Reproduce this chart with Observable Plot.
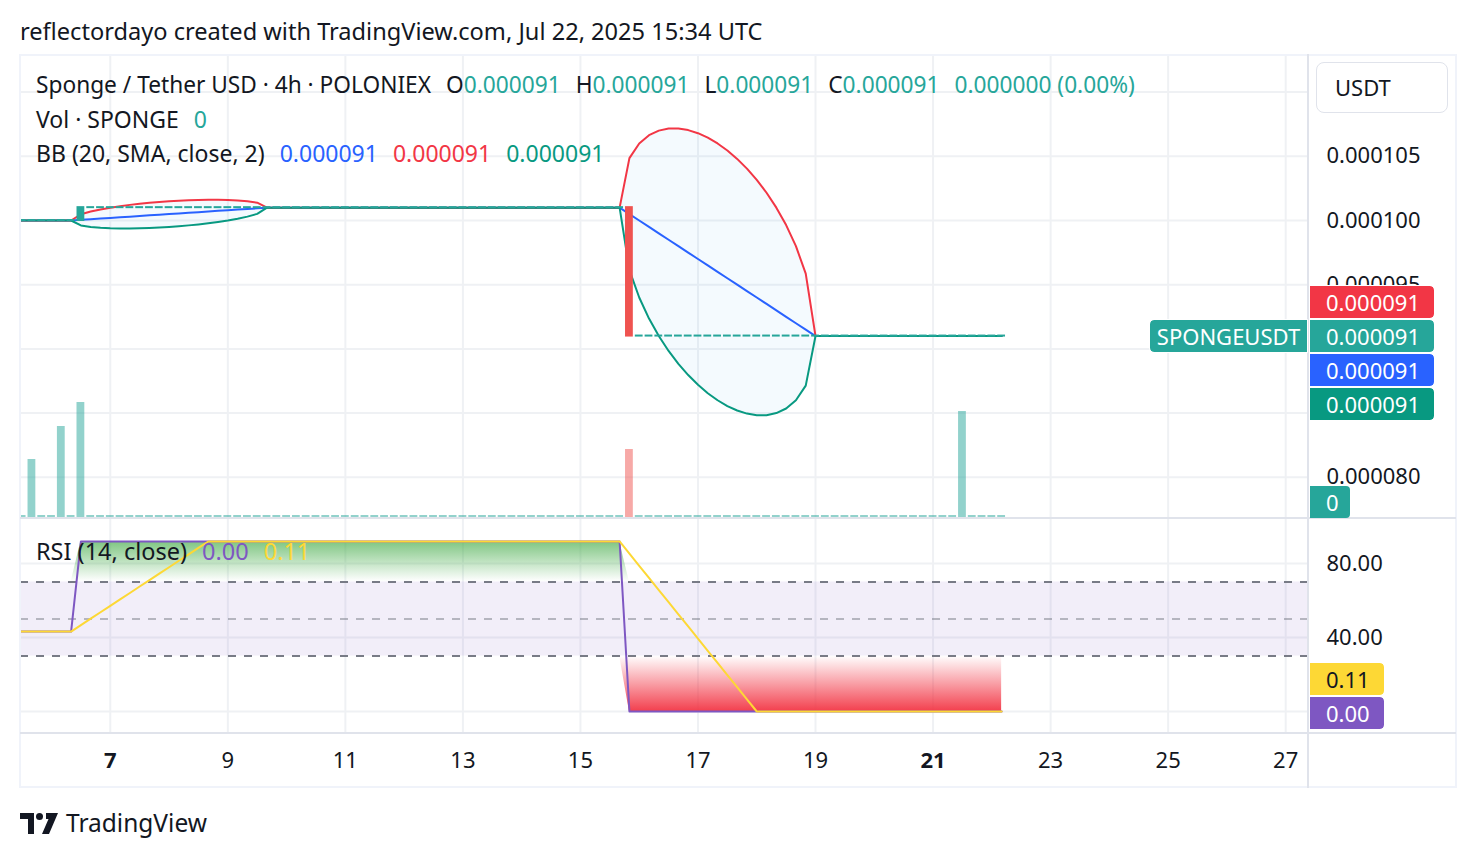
<!DOCTYPE html>
<html><head><meta charset="utf-8">
<script src="https://cdn.jsdelivr.net/npm/d3@7"></script>
<script src="https://cdn.jsdelivr.net/npm/@observablehq/plot@0.6"></script>
<style>
html,body{margin:0;padding:0;background:#fff;}
#root{position:relative;width:1476px;height:858px;overflow:hidden;font-family:"Noto Sans",Roboto,sans-serif;color:#131722;}
#root svg{position:absolute;}
.t{position:absolute;white-space:nowrap;font-size:23px;line-height:30px;height:30px;}
.t .s{margin-left:15px;}
.ln{position:absolute;}
.badge{position:absolute;font-size:22px;height:32px;line-height:32px;white-space:nowrap;box-sizing:border-box;padding-left:16px;color:#fff;outline:1px solid #fff;}
</style></head>
<body><div id="root"></div>
<script>
// ---------------- data ----------------
const symbolName = "Sponge / Tether USD · 4h · POLONIEX";
const firstBar = "2025-07-02T08:00:00Z";            // series is flat before the visible window
const lastBar  = "2025-07-22T04:00:00Z";
// close price of each 4h bar, given as runs: bar where level starts -> close (USDT)
const closeRunStarts = ["2025-07-02T08:00:00Z", "2025-07-06T12:00:00Z", "2025-07-15T20:00:00Z"];
const closeRunValues = [0.000100, 0.000101, 0.000091];
// bars with traded volume (SPONGE); every other bar has volume 0
const volumeTimes  = ["2025-07-05T16:00:00Z", "2025-07-06T04:00:00Z", "2025-07-06T12:00:00Z", "2025-07-15T20:00:00Z", "2025-07-21T12:00:00Z"];
const volumeValues = [58000, 91000, 115000, 68000, 106000];
// RSI(14) level, as runs
const rsiRunStarts = ["2025-07-02T08:00:00Z", "2025-07-06T12:00:00Z", "2025-07-15T20:00:00Z"];
const rsiRunValues = [43.2, 91.9, 0];
const rsiLegend = ["0.00", "0.11"];
// axes
const dateTicks  = ["2025-07-07","2025-07-09","2025-07-11","2025-07-13","2025-07-15","2025-07-17","2025-07-19","2025-07-21","2025-07-23","2025-07-25","2025-07-27"];
const boldDateTicks = ["2025-07-07","2025-07-21"];
const priceTickLabels = [0.000080, 0.000095, 0.000100, 0.000105];
const priceGrid  = [0.000080, 0.000085, 0.000090, 0.000095, 0.000100, 0.000105, 0.000110];
const rsiTicks = [40, 80];
const rsiGrid  = [0, 40, 80];
const rsiBand  = [{lo: 30, hi: 70}];
const rsiDashed = [30, 70];
const rsiMid = [50];

// ---------------- build series ----------------
const HOUR = 3600e3;
const times = d3.utcHour.every(4).range(new Date(firstBar), new Date(+new Date(lastBar) + 1));
function runValue(starts, values, t) { let v = values[0]; starts.forEach((s, i) => { if (t >= new Date(s)) v = values[i]; }); return v; }
const volMap = new Map(volumeTimes.map((t, i) => [+new Date(t), volumeValues[i]]));
const bars = times.map(t => ({date: t, close: runValue(closeRunStarts, closeRunValues, t), volume: volMap.get(+t) || 0, rsi: runValue(rsiRunStarts, rsiRunValues, t)}));
bars.forEach((b, i) => { b.open = i ? bars[i - 1].close : b.close; });
// Bollinger Bands (20, SMA, close, 2) and the RSI's 14-bar moving average
bars.forEach((b, i) => {
  const w = bars.slice(Math.max(0, i - 19), i + 1).map(d => d.close);
  const m = d3.mean(w), sd = Math.sqrt(d3.mean(w, v => (v - m) ** 2));
  b.basis = m; b.upper = m + 2 * sd; b.lower = m - 2 * sd;
  b.ma = d3.mean(bars.slice(Math.max(0, i - 13), i + 1), d => d.rsi);
});
const last = bars[bars.length - 1];

// ---------------- layout ----------------
const root = document.getElementById("root");
const W = 1476, ML = 20, MR = 168;
const xDomain = [new Date("2025-07-05T11:20:00Z"), new Date("2025-07-27T09:19:00Z")];
const priceDomain = [0.0000767913, 0.00011285];
const gridColor = "#EFF1F4";
const font = '"Noto Sans", Roboto, sans-serif';
const baseStyle = {background: "none", color: "#131722", fontFamily: font, fontSize: "22px", overflow: "visible"};
const x1 = d => new Date(+d.date - 2 * HOUR), x2 = d => new Date(+d.date + 2 * HOUR);
const up = "#26A69A", down = "#EF5350";

function put(el, left, top) { el.style.position = "absolute"; el.style.left = left + "px"; el.style.top = top + "px"; root.appendChild(el); return el; }
function line(left, top, w, h, c) { const d = document.createElement("div"); d.className = "ln"; Object.assign(d.style, {left: left + "px", top: top + "px", width: w + "px", height: h + "px", background: c}); root.appendChild(d); }

// layer A: price grid
const gridPlot = Plot.plot({width: W, height: 463, marginLeft: ML, marginRight: MR, marginTop: 0, marginBottom: 0, style: baseStyle,
  x: {type: "utc", domain: xDomain, axis: null}, y: {domain: priceDomain, axis: null},
  marks: [
    Plot.ruleX(dateTicks.map(d => new Date(d)), {stroke: gridColor, strokeWidth: 2}),
    Plot.ruleY(priceGrid, {stroke: gridColor, strokeWidth: 2})
  ]});
put(gridPlot, 0, 55);

// layer B: volume
const volPlot = Plot.plot({width: W, height: 463, marginLeft: ML, marginRight: MR, marginTop: 0, marginBottom: 1, style: baseStyle,
  x: {type: "utc", domain: xDomain, axis: null}, y: {domain: [0, 462000], axis: null},
  marks: [
    Plot.rect(bars.filter(d => d.volume > 0), {x1, x2, y1: () => 0, y2: "volume", fill: d => d.close >= d.open ? up : down, fillOpacity: 0.5, insetLeft: 1, insetRight: 1, clip: true}),
    Plot.rect(bars.filter(d => d.volume === 0), {x1, x2, y1: () => 0, y2: () => 0, fill: up, fillOpacity: 0.5, insetLeft: 1, insetRight: 1, insetTop: -2, clip: true})
  ]});
put(volPlot, 0, 55);

// layer C: price, Bollinger Bands, price axis
const main = Plot.plot({width: W, height: 463, marginLeft: ML, marginRight: MR, marginTop: 0, marginBottom: 0, style: baseStyle,
  x: {type: "utc", domain: xDomain, axis: null}, y: {domain: priceDomain, axis: null},
  marks: [
    Plot.areaY(bars, {x: "date", y1: "lower", y2: "upper", fill: "#2196F3", fillOpacity: 0.05, clip: true}),
    Plot.lineY(bars, {x: "date", y: "basis", stroke: "#2962FF", strokeWidth: 2, clip: true}),
    Plot.lineY(bars, {x: "date", y: "upper", stroke: "#F23645", strokeWidth: 2, clip: true}),
    Plot.lineY(bars, {x: "date", y: "lower", stroke: "#089981", strokeWidth: 2, clip: true}),
    Plot.rect(bars, {x1, x2, y1: "open", y2: "close", fill: d => d.close >= d.open ? up : down, insetLeft: 1, insetRight: 1, insetTop: -1, insetBottom: -1, clip: true}),
    Plot.axisY(priceTickLabels, {anchor: "right", tickSize: 0, tickPadding: 18, tickFormat: d => d.toFixed(6), label: null, fontSize: 22})
  ]});
put(main, 0, 55);

// RSI pane + date axis
function gradDefs() {
  const defs = d3.create("svg:defs");
  const g1 = defs.append("linearGradient").attr("id", "rsiOver").attr("x1", 0).attr("y1", 0).attr("x2", 0).attr("y2", 1);
  g1.append("stop").attr("offset", 0).attr("stop-color", "#4CAF50").attr("stop-opacity", 0.72);
  g1.append("stop").attr("offset", 1).attr("stop-color", "#4CAF50").attr("stop-opacity", 0);
  const g2 = defs.append("linearGradient").attr("id", "rsiUnder").attr("x1", 0).attr("y1", 0).attr("x2", 0).attr("y2", 1);
  g2.append("stop").attr("offset", 0).attr("stop-color", "#F23645").attr("stop-opacity", 0);
  g2.append("stop").attr("offset", 1).attr("stop-color", "#F23645").attr("stop-opacity", 0.95);
  return defs.node();
}
const rsiPlot = Plot.plot({width: W, height: 270, marginLeft: ML, marginRight: MR, marginTop: 0, marginBottom: 55, style: baseStyle,
  x: {type: "utc", domain: xDomain, axis: null}, y: {domain: [-11.89, 104.32], axis: null},
  marks: [
    gradDefs,
    Plot.ruleX(dateTicks.map(d => new Date(d)), {stroke: gridColor, strokeWidth: 2}),
    Plot.ruleY(rsiGrid, {stroke: gridColor, strokeWidth: 2}),
    Plot.rect(rsiBand, {x1: () => xDomain[0], x2: () => xDomain[1], y1: "lo", y2: "hi", fill: "#7E57C2", fillOpacity: 0.1}),
    Plot.ruleY(rsiDashed, {stroke: "#787B86", strokeWidth: 2, strokeDasharray: "8,8"}),
    Plot.ruleY(rsiMid, {stroke: "#787B86", strokeOpacity: 0.5, strokeWidth: 2, strokeDasharray: "8,8"}),
    Plot.areaY(bars, {x: "date", y1: () => 70, y2: d => Math.max(d.rsi, 70), fill: "url(#rsiOver)", clip: true}),
    Plot.areaY(bars, {x: "date", y1: () => 30, y2: d => Math.min(d.rsi, 30), fill: "url(#rsiUnder)", clip: true}),
    Plot.lineY(bars, {x: "date", y: "rsi", stroke: "#7E57C2", strokeWidth: 2, clip: true}),
    Plot.lineY(bars, {x: "date", y: "ma", stroke: "#FDD835", strokeWidth: 2, clip: true}),
    Plot.axisY(rsiTicks, {anchor: "right", tickSize: 0, tickPadding: 18, tickFormat: d => d.toFixed(2), label: null, fontSize: 22}),
    Plot.axisX(dateTicks.filter(d => !boldDateTicks.includes(d)).map(d => new Date(d)), {anchor: "bottom", tickSize: 0, tickPadding: 19, tickFormat: d => d.getUTCDate(), label: null, fontSize: 22}),
    Plot.axisX(boldDateTicks.map(d => new Date(d)), {anchor: "bottom", tickSize: 0, tickPadding: 19, tickFormat: d => d.getUTCDate(), label: null, fontSize: 22, fontWeight: "bold"})
  ]});
put(rsiPlot, 0, 518);

// frame lines
line(20, 54, 1436, 2, "#F0F3FA");
line(20, 786, 1436, 2, "#F0F3FA");
line(19, 54, 2, 734, "#F0F3FA");
line(1455, 54, 2, 734, "#F0F3FA");
line(1307, 54, 2, 734, "#E0E3EB");
line(20, 517, 1436, 2, "#E0E3EB");
line(20, 732, 1436, 2, "#E0E3EB");

// texts
function text(html, left, cy, extra) { const d = document.createElement("div"); d.className = "t"; d.innerHTML = html; d.style.left = left + "px"; d.style.top = (cy - 15) + "px"; if (extra) Object.assign(d.style, extra); root.appendChild(d); return d; }
const pf = v => v.toFixed(6);
const teal = "#26A69A";
text("reflectordayo created with TradingView.com, Jul 22, 2025 15:34 UTC", 20, 31, {fontSize: "23.6px"});
const chg = last.close - last.open;
text(`${symbolName}<span class="s">O<span style="color:${teal}">${pf(last.open)}</span></span><span class="s">H<span style="color:${teal}">${pf(last.close)}</span></span><span class="s">L<span style="color:${teal}">${pf(last.close)}</span></span><span class="s">C<span style="color:${teal}">${pf(last.close)}</span></span><span class="s" style="color:${teal}">${pf(chg)} (${(chg / last.open * 100).toFixed(2)}%)</span>`, 36, 85, {fontSize: "22.7px"});
text(`Vol · SPONGE<span class="s" style="color:${teal}">${last.volume}</span>`, 36, 119);
text(`BB (20, SMA, close, 2)<span class="s" style="color:#2962FF">${pf(last.basis)}</span><span class="s" style="color:#F23645">${pf(last.upper)}</span><span class="s" style="color:#089981">${pf(last.lower)}</span>`, 36, 153);
text(`RSI (14, close)<span class="s" style="color:#7E57C2">${rsiLegend[0]}</span><span class="s" style="color:#FDD835">${rsiLegend[1]}</span>`, 36, 551, {fontSize: "23.5px"});

// badges (positioned with the plots' own scales)
const yP = v => main.scale("y").apply(v) + 55;
const yV = v => volPlot.scale("y").apply(v) + 55;
const yR = v => rsiPlot.scale("y").apply(v) + 518;
function badge(txt, left, cy, w, bg, fg, radius, extra) { const d = document.createElement("div"); d.className = "badge"; d.textContent = txt; Object.assign(d.style, {left: left + "px", top: (cy - 16) + "px", width: w + "px", background: bg, color: fg, borderRadius: radius}); if (extra) Object.assign(d.style, extra); root.appendChild(d); }
const pc = yP(last.close);
badge(pf(last.upper), 1310, yP(last.upper) - 34, 124, "#F23645", "#fff", "0 4px 4px 0");
badge(pf(last.close), 1310, pc, 124, teal, "#fff", "0 4px 4px 0");
badge(pf(last.basis), 1310, yP(last.basis) + 34, 124, "#2962FF", "#fff", "0 4px 4px 0");
badge(pf(last.lower), 1310, yP(last.lower) + 68, 124, "#089981", "#fff", "0 4px 4px 0");
badge("SPONGEUSDT", 1150, pc, 157, teal, "#fff", "4px 0 0 4px", {paddingLeft: "0", textAlign: "center"});
badge(String(last.volume), 1310, yV(0) - 15, 40, teal, "#fff", "0 4px 4px 0", {outline: "none"});
badge(rsiLegend[1], 1310, yR(last.ma) - 32, 74, "#FDD835", "#131722", "0 4px 4px 0");
badge(rsiLegend[0], 1310, yR(last.rsi) + 2, 74, "#7E57C2", "#fff", "0 4px 4px 0");

// currency box
const box = document.createElement("div");
box.textContent = "USDT";
Object.assign(box.style, {position: "absolute", left: "1316px", top: "62px", width: "132px", height: "51px", border: "1px solid #E0E3EB", borderRadius: "8px", boxSizing: "border-box", background: "#fff", fontSize: "22px", lineHeight: "49px", paddingLeft: "18px"});
root.appendChild(box);

// TradingView logo
const logo = d3.create("svg").attr("width", 40).attr("height", 22).attr("viewBox", "0 0 40 22");
logo.append("path").attr("d", "M0 1H14V22H8V7H0Z").attr("fill", "#131722");
logo.append("circle").attr("cx", 19.5).attr("cy", 4.5).attr("r", 3.5).attr("fill", "#131722");
logo.append("path").attr("d", "M26 1H38L29 22H22L28.5 7H26Z").attr("fill", "#131722");
put(logo.node(), 20, 812);
text("TradingView", 66, 823, {fontSize: "24.5px"});
</script></body></html>
